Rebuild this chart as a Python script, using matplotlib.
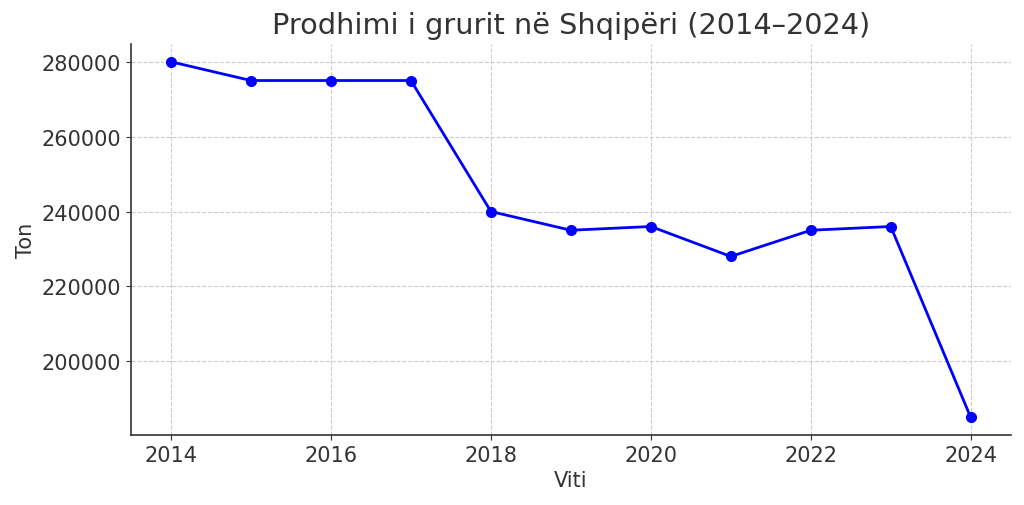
import matplotlib
matplotlib.use("Agg")
import matplotlib.pyplot as plt

years = [2014, 2015, 2016, 2017, 2018, 2019, 2020, 2021, 2022, 2023, 2024]
production = [280000, 275000, 275000, 275000, 240000, 235000, 236000, 228000, 235000, 236000, 185000]

fig = plt.figure(figsize=(10.24, 5.06), dpi=100)
ax = fig.add_axes([0.128, 0.138, 0.859, 0.773])
ax.plot(years, production, color="blue", marker="o", linewidth=2, markersize=7)
ax.set_title("Prodhimi i grurit në Shqipëri (2014–2024)", fontsize=20.7, color="#333333", pad=8)
ax.set_xlabel("Viti", fontsize=15, color="#333333")
ax.set_ylabel("Ton", fontsize=15, color="#333333")
ax.tick_params(labelsize=15, colors="#333333")
ax.set_xticks([2014, 2016, 2018, 2020, 2022, 2024])
ax.set_yticks([200000, 220000, 240000, 260000, 280000])
ax.grid(True, linestyle="--", color="#cccccc", linewidth=0.8)
ax.spines["top"].set_visible(False)
ax.spines["right"].set_visible(False)
for s in ("left", "bottom"):
    ax.spines[s].set_color("#333333")
    ax.spines[s].set_linewidth(1.2)
fig.savefig("out.png", dpi=100)
